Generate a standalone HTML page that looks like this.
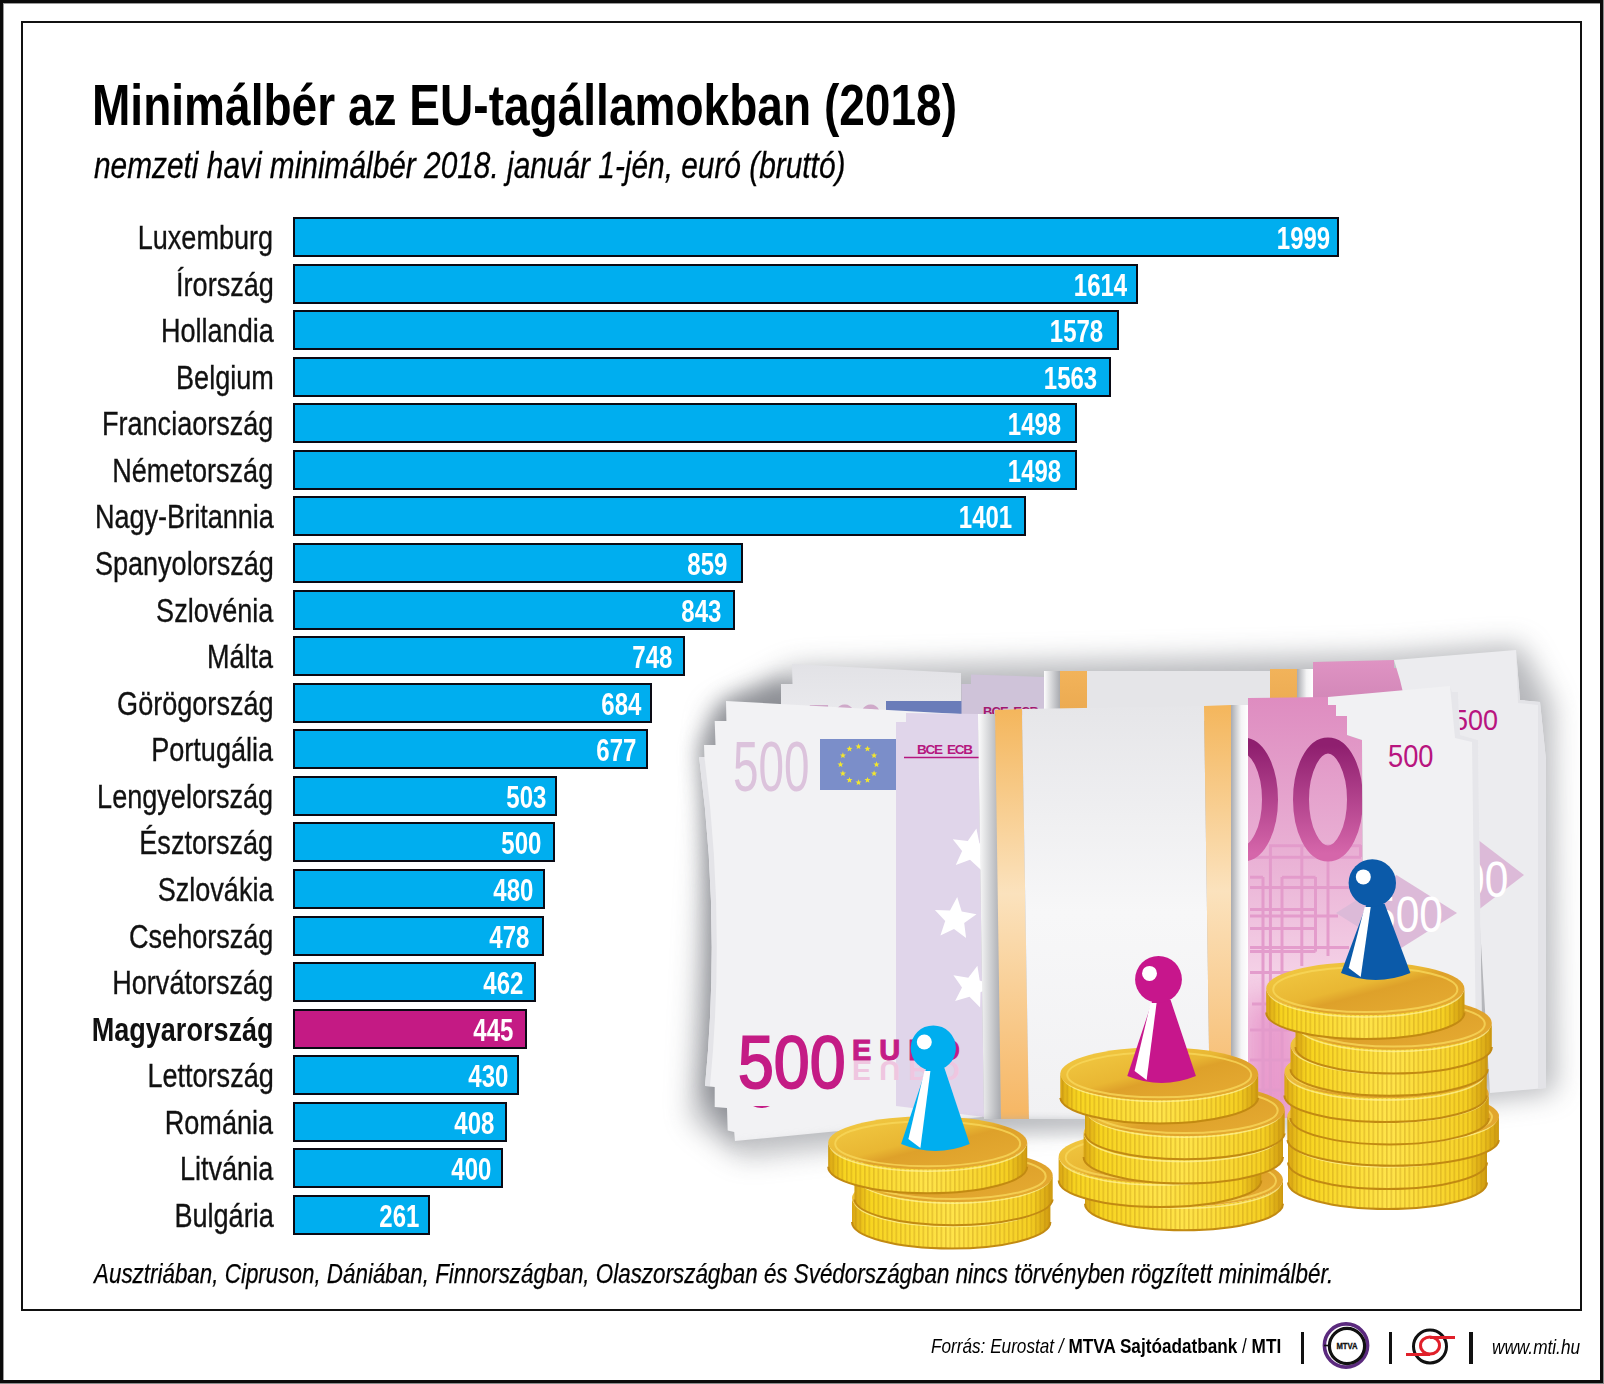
<!DOCTYPE html>
<html><head><meta charset="utf-8">
<style>
html,body{margin:0;padding:0;background:#fff;}
body{width:1604px;height:1384px;position:relative;overflow:hidden;font-family:"Liberation Sans",sans-serif;}
.outer{position:absolute;left:0;top:0;width:1597px;height:1377px;border:3px solid #0a0a0a;}
.edge{position:absolute;background:#8a8a8a;}
.inner{position:absolute;left:21px;top:21px;width:1557px;height:1286px;border:2px solid #111;}
.t{position:absolute;white-space:nowrap;line-height:1;}
.bar{position:absolute;left:293px;height:36px;border:2px solid #0a0a14;box-sizing:content-box;background:#00aeef;}
.bar.mag{background:#c41a84;}
.lab{position:absolute;right:1330.5px;white-space:nowrap;font-size:34px;line-height:40px;height:40px;color:#111;transform:scaleX(0.796);transform-origin:100% 0;}
.lab{-webkit-text-stroke:0.35px #111;}
.lab.b{font-weight:bold;-webkit-text-stroke:0;}
.val{position:absolute;white-space:nowrap;font-size:32px;font-weight:bold;color:#fff;line-height:40px;height:40px;margin-top:1px;transform:scaleX(0.75);transform-origin:100% 0;}
</style></head><body>
<div class="outer"></div>
<div class="edge" style="left:1603px;top:0;width:1px;height:1384px"></div>
<div class="edge" style="left:0;top:1383px;width:1604px;height:1px"></div>
<div class="inner"></div>
<div class="edge" style="left:3px;top:3px;width:1px;height:1377px;background:#9a9a9a"></div>
<div class="edge" style="left:3px;top:3px;width:1597px;height:1px;background:#9a9a9a"></div>
<div class="t" id="title" style="left:92px;top:76px;font-size:58px;font-weight:bold;transform:scaleX(0.794);transform-origin:0 0;">Minimálbér az EU-tagállamokban (2018)</div>
<div class="t" id="sub" style="left:93.5px;top:148px;font-size:36px;font-style:italic;-webkit-text-stroke:0.3px #000;transform:scaleX(0.829);transform-origin:0 0;">nemzeti havi minimálbér 2018. január 1-jén, euró (bruttó)</div>
<div class="bar" style="top:217.0px;width:1041.9px"></div>
<div class="lab" style="top:217.0px">Luxemburg</div>
<div class="val" style="top:217.0px;right:273.7px">1999</div>
<div class="bar" style="top:263.6px;width:840.6px"></div>
<div class="lab" style="top:263.6px">Írország</div>
<div class="val" style="top:263.6px;right:477.3px">1614</div>
<div class="bar" style="top:310.1px;width:821.8px"></div>
<div class="lab" style="top:310.1px">Hollandia</div>
<div class="val" style="top:310.1px;right:500.5px">1578</div>
<div class="bar" style="top:356.7px;width:814.0px"></div>
<div class="lab" style="top:356.7px">Belgium</div>
<div class="val" style="top:356.7px;right:507.2px">1563</div>
<div class="bar" style="top:403.3px;width:780.0px"></div>
<div class="lab" style="top:403.3px">Franciaország</div>
<div class="val" style="top:403.3px;right:542.4px">1498</div>
<div class="bar" style="top:449.9px;width:780.0px"></div>
<div class="lab" style="top:449.9px">Németország</div>
<div class="val" style="top:449.9px;right:542.4px">1498</div>
<div class="bar" style="top:496.4px;width:729.3px"></div>
<div class="lab" style="top:496.4px">Nagy-Britannia</div>
<div class="val" style="top:496.4px;right:591.6px">1401</div>
<div class="bar" style="top:543.0px;width:446.0px"></div>
<div class="lab" style="top:543.0px">Spanyolország</div>
<div class="val" style="top:543.0px;right:876.8px">859</div>
<div class="bar" style="top:589.6px;width:437.6px"></div>
<div class="lab" style="top:589.6px">Szlovénia</div>
<div class="val" style="top:589.6px;right:882.5px">843</div>
<div class="bar" style="top:636.1px;width:388.0px"></div>
<div class="lab" style="top:636.1px">Málta</div>
<div class="val" style="top:636.1px;right:932.1px">748</div>
<div class="bar" style="top:682.7px;width:354.5px"></div>
<div class="lab" style="top:682.7px">Görögország</div>
<div class="val" style="top:682.7px;right:963.0px">684</div>
<div class="bar" style="top:729.3px;width:350.9px"></div>
<div class="lab" style="top:729.3px">Portugália</div>
<div class="val" style="top:729.3px;right:967.8px">677</div>
<div class="bar" style="top:775.8px;width:259.9px"></div>
<div class="lab" style="top:775.8px">Lengyelország</div>
<div class="val" style="top:775.8px;right:1057.2px">503</div>
<div class="bar" style="top:822.4px;width:258.4px"></div>
<div class="lab" style="top:822.4px">Észtország</div>
<div class="val" style="top:822.4px;right:1063.0px">500</div>
<div class="bar" style="top:869.0px;width:247.9px"></div>
<div class="lab" style="top:869.0px">Szlovákia</div>
<div class="val" style="top:869.0px;right:1070.9px">480</div>
<div class="bar" style="top:915.5px;width:246.9px"></div>
<div class="lab" style="top:915.5px">Csehország</div>
<div class="val" style="top:915.5px;right:1074.7px">478</div>
<div class="bar" style="top:962.1px;width:238.5px"></div>
<div class="lab" style="top:962.1px">Horvátország</div>
<div class="val" style="top:962.1px;right:1081.0px">462</div>
<div class="bar mag" style="top:1008.7px;width:229.6px"></div>
<div class="lab b" style="top:1008.7px">Magyarország</div>
<div class="val" style="top:1008.7px;right:1090.7px">445</div>
<div class="bar" style="top:1055.3px;width:221.8px"></div>
<div class="lab" style="top:1055.3px">Lettország</div>
<div class="val" style="top:1055.3px;right:1095.9px">430</div>
<div class="bar" style="top:1101.8px;width:210.3px"></div>
<div class="lab" style="top:1101.8px">Románia</div>
<div class="val" style="top:1101.8px;right:1109.7px">408</div>
<div class="bar" style="top:1148.4px;width:206.1px"></div>
<div class="lab" style="top:1148.4px">Litvánia</div>
<div class="val" style="top:1148.4px;right:1112.7px">400</div>
<div class="bar" style="top:1195.0px;width:133.4px"></div>
<div class="lab" style="top:1195.0px">Bulgária</div>
<div class="val" style="top:1195.0px;right:1184.8px">261</div>
<div class="t" id="foot" style="left:94px;top:1260px;font-size:28px;font-style:italic;-webkit-text-stroke:0.25px #000;transform:scaleX(0.8);transform-origin:0 0;">Ausztriában, Cipruson, Dániában, Finnországban, Olaszországban és Svédországban nincs törvényben rögzített minimálbér.</div>
<div class="t" id="src" style="left:931px;top:1335px;font-size:21px;transform:scaleX(0.8176);transform-origin:0 0;"><i>Forrás: Eurostat / </i><b>MTVA Sajtóadatbank</b> / <b>MTI</b></div>
<div class="edge" style="left:1300.5px;top:1332px;width:3.5px;height:32px;background:#111"></div>
<div class="edge" style="left:1388.5px;top:1332px;width:3.5px;height:32px;background:#111"></div>
<div class="edge" style="left:1469px;top:1332px;width:3.5px;height:32px;background:#111"></div>
<svg style="position:absolute;left:1310px;top:1310px" width="80" height="74" viewBox="1310 1310 80 74">
<circle cx="1346" cy="1345.5" r="21.6" fill="none" stroke="#5b2a7e" stroke-width="3.6"/>
<circle cx="1347" cy="1346" r="17.6" fill="none" stroke="#111" stroke-width="3.2"/>
<line x1="1324" y1="1345.5" x2="1330" y2="1345.5" stroke="#111" stroke-width="1.6"/>
<text x="1347" y="1349.5" font-family="Liberation Sans" font-weight="bold" font-size="8.5" text-anchor="middle" fill="#111" stroke="#111" stroke-width="0.3" transform="translate(1347 0) scale(0.9 1) translate(-1347 0)">MTVA</text>
</svg>
<svg style="position:absolute;left:1400px;top:1310px" width="70" height="74" viewBox="1400 1310 70 74">
<circle cx="1430" cy="1346.5" r="16.5" fill="none" stroke="#111" stroke-width="3"/>
<ellipse cx="1430" cy="1345.5" rx="9.5" ry="8.5" fill="none" stroke="#e0202a" stroke-width="3"/>
<line x1="1430" y1="1337.5" x2="1455" y2="1337.5" stroke="#e0202a" stroke-width="3"/>
<line x1="1406" y1="1354.5" x2="1430" y2="1354.5" stroke="#e0202a" stroke-width="3"/>
</svg>
<div class="t" id="www" style="left:1492px;top:1336px;font-size:21px;font-style:italic;transform:scaleX(0.82);transform-origin:0 0;">www.mti.hu</div>
<svg style="position:absolute;left:0;top:0" width="1604" height="1384" viewBox="0 0 1604 1384">
<defs>
<filter id="bl14" x="-20%" y="-20%" width="140%" height="140%"><feGaussianBlur stdDeviation="14"/></filter>
<filter id="bl10" x="-50%" y="-20%" width="200%" height="140%"><feGaussianBlur stdDeviation="10"/></filter>
<filter id="bl6" x="-20%" y="-20%" width="140%" height="140%"><feGaussianBlur stdDeviation="6"/></filter>
<filter id="bl3" x="-20%" y="-20%" width="140%" height="140%"><feGaussianBlur stdDeviation="3"/></filter>
<linearGradient id="wrapL" x1="0" x2="1" y1="0" y2="0"><stop offset="0" stop-color="#fdfdfd"/><stop offset="1" stop-color="#a9abb0"/></linearGradient>
<linearGradient id="wrapR" x1="0" x2="1" y1="0" y2="0"><stop offset="0" stop-color="#a9abb0"/><stop offset="0.6" stop-color="#f4f4f5"/><stop offset="1" stop-color="#ffffff"/></linearGradient>
<linearGradient id="orange" x1="0" x2="0" y1="0" y2="1"><stop offset="0" stop-color="#f4b65c"/><stop offset="0.45" stop-color="#fbe2bd"/><stop offset="1" stop-color="#f6b663"/></linearGradient>
<linearGradient id="orangeB" x1="0" x2="0" y1="0" y2="1"><stop offset="0" stop-color="#f2b35a"/><stop offset="1" stop-color="#eaa84f"/></linearGradient>
<linearGradient id="wrapW" x1="0" x2="0" y1="0" y2="1"><stop offset="0" stop-color="#e6e6e9"/><stop offset="0.5" stop-color="#f7f7f8"/><stop offset="1" stop-color="#f1f1f3"/></linearGradient>
<linearGradient id="pink" x1="0" x2="0" y1="0" y2="1"><stop offset="0" stop-color="#de8cc0"/><stop offset="0.4" stop-color="#eab3d6"/><stop offset="0.65" stop-color="#f4d0e6"/><stop offset="1" stop-color="#eeb8da"/></linearGradient>
<linearGradient id="pinkB" x1="0" x2="0" y1="0" y2="1"><stop offset="0" stop-color="#df93c3"/><stop offset="1" stop-color="#c97fb0"/></linearGradient>
<linearGradient id="zero" x1="0" x2="0" y1="0" y2="1"><stop offset="0" stop-color="#8f1f6f"/><stop offset="1" stop-color="#d566aa"/></linearGradient>
<linearGradient id="note" x1="0" x2="0" y1="0" y2="1"><stop offset="0" stop-color="#e9e9ec"/><stop offset="0.15" stop-color="#f2f2f4"/><stop offset="1" stop-color="#f3f3f5"/></linearGradient>
<linearGradient id="noteB" x1="0" x2="0" y1="0" y2="1"><stop offset="0" stop-color="#e2e2e6"/><stop offset="1" stop-color="#ececef"/></linearGradient>
<linearGradient id="rim" x1="0" x2="1" y1="0" y2="0"><stop offset="0" stop-color="#d9a514"/><stop offset="0.08" stop-color="#f7d41f"/><stop offset="0.5" stop-color="#ffe44a"/><stop offset="0.9" stop-color="#f5cf22"/><stop offset="1" stop-color="#cf9a10"/></linearGradient>
<linearGradient id="face" x1="0" x2="1" y1="0" y2="1"><stop offset="0" stop-color="#f3cc45"/><stop offset="0.45" stop-color="#e9b733"/><stop offset="0.55" stop-color="#dea12a"/><stop offset="1" stop-color="#e7ad34"/></linearGradient>
<pattern id="ribs" width="4.5" height="40" patternUnits="userSpaceOnUse"><rect x="0" y="0" width="1.6" height="40" fill="#b98a10" opacity="0.35"/></pattern>
<linearGradient id="shB" x1="0" x2="0" y1="0" y2="1"><stop offset="0" stop-color="#9da0a6" stop-opacity="0.9"/><stop offset="1" stop-color="#ffffff" stop-opacity="0"/></linearGradient>
<clipPath id="pinkclip"><path d="M1248 698 L1328 697 L1328 705 L1336 705 L1336 716 L1347 716 L1347 735 L1362 740 L1364 1116 L1248 1119 Z"/></clipPath>
</defs>
<path d="M712 712 L795 668 L1380 655 L1520 645 L1552 705 L1555 1092 L1480 1100 L1000 1128 L742 1156 L692 1118 Z" fill="#6d7077" opacity="0.5" filter="url(#bl14)"/>
<path d="M698 745 L724 700 L782 680 L800 690 L740 1140 L704 1092 Q716 921 698 757 Z" fill="#6a6d74" opacity="0.55" filter="url(#bl10)"/>
<path d="M781 684 L792.5 684 L792 664 L961 673 L961 730 L781 730 Z" fill="url(#noteB)"/>
<rect x="886" y="701" width="77" height="30" fill="#6a7cb9"/>
<g transform="translate(806 748) scale(0.75 1)"><text x="0" y="0" font-family="Liberation Sans" font-size="62" fill="#cfa9c9">500</text></g>
<path d="M961.5 684 L971 684 L971 674.4 L1044 677 L1044 730 L961.5 730 Z" fill="#cfc3d9"/>
<text x="983" y="716" font-family="Liberation Sans" font-weight="bold" font-size="13" fill="#a3176f" textLength="56" lengthAdjust="spacing">BCE&#160;&#160;ECB</text>
<rect x="1044" y="671" width="16" height="50" fill="url(#wrapL)"/>
<rect x="1060" y="671" width="27" height="50" fill="url(#orangeB)"/>
<rect x="1087" y="671" width="183" height="50" fill="#e5e5e8"/>
<rect x="1270" y="669" width="27" height="52" fill="url(#orangeB)"/>
<rect x="1297" y="669" width="16" height="52" fill="url(#wrapR)"/>
<path d="M1313 662 L1394 660 L1394 668 L1400 668 L1400 680 L1412 680 L1412 730 L1313 730 Z" fill="url(#pinkB)"/>
<path d="M1394 660 L1516 650 L1520 700 L1540 702 L1546 760 L1546 1088 L1490 1093 L1470 760 L1412 730 L1400 680 Z" fill="#ececef"/>
<path d="M1516 650 L1520 700 L1540 702 L1546 760 L1546 1088 L1538 1089 L1538 705 L1518 703 Z" fill="#e3e3e7"/>
<g transform="translate(1453 730) scale(0.9 1)"><text x="0" y="0" font-family="Liberation Sans" font-size="30" fill="#b8157f">500</text></g>
<path d="M1473 836 L1524 875 L1473 914 L1440 875 Z" fill="#dcbad8"/>
<g transform="translate(1461 897) scale(0.85 1)"><text x="0" y="0" font-family="Liberation Sans" font-size="50" fill="#ffffff">00</text></g>
<path d="M726 701 L978 715 L982 1117 L735 1141 L734.2 1132 L727.7 1130.6 L727 1108 L714.7 1107 L714.7 1087 L705 1086 Q721 921 699 757 L704.4 757 L704 745 L715.5 745 L714.7 721 L726.4 721 Z" fill="#f2f2f4"/>
<path d="M699 757 L704.4 757 Q726 921 710 1086 L705 1086 Q721 921 699 757 Z" fill="#e4e4e8"/>
<g transform="translate(733 790.5) scale(0.655 1.0)"><text x="0" y="0" font-family="Liberation Sans" font-size="70" fill="#dcc3dc">500</text></g>
<rect x="820" y="739" width="77" height="51" fill="#7b8ec9"/>
<polygon points="876.5,761.3 877.3,763.4 879.5,763.5 877.8,764.9 878.4,767.1 876.5,765.9 874.6,767.1 875.2,764.9 873.5,763.5 875.7,763.4" fill="#f2e62e"/>
<polygon points="874.1,770.3 874.9,772.4 877.1,772.5 875.4,773.9 876.0,776.1 874.1,774.9 872.2,776.1 872.8,773.9 871.0,772.5 873.3,772.4" fill="#f2e62e"/>
<polygon points="867.5,776.9 868.3,779.0 870.5,779.1 868.8,780.5 869.4,782.7 867.5,781.5 865.6,782.7 866.2,780.5 864.5,779.1 866.7,779.0" fill="#f2e62e"/>
<polygon points="858.5,779.3 859.3,781.4 861.5,781.5 859.8,782.9 860.4,785.1 858.5,783.9 856.6,785.1 857.2,782.9 855.5,781.5 857.7,781.4" fill="#f2e62e"/>
<polygon points="849.5,776.9 850.3,779.0 852.5,779.1 850.8,780.5 851.4,782.7 849.5,781.5 847.6,782.7 848.2,780.5 846.5,779.1 848.7,779.0" fill="#f2e62e"/>
<polygon points="842.9,770.3 843.7,772.4 846.0,772.5 844.2,773.9 844.8,776.1 842.9,774.9 841.0,776.1 841.6,773.9 839.9,772.5 842.1,772.4" fill="#f2e62e"/>
<polygon points="840.5,761.3 841.3,763.4 843.5,763.5 841.8,764.9 842.4,767.1 840.5,765.9 838.6,767.1 839.2,764.9 837.5,763.5 839.7,763.4" fill="#f2e62e"/>
<polygon points="842.9,752.3 843.7,754.4 846.0,754.5 844.2,755.9 844.8,758.1 842.9,756.9 841.0,758.1 841.6,755.9 839.9,754.5 842.1,754.4" fill="#f2e62e"/>
<polygon points="849.5,745.7 850.3,747.8 852.5,747.9 850.8,749.3 851.4,751.5 849.5,750.3 847.6,751.5 848.2,749.3 846.5,747.9 848.7,747.8" fill="#f2e62e"/>
<polygon points="858.5,743.3 859.3,745.4 861.5,745.5 859.8,746.9 860.4,749.1 858.5,747.9 856.6,749.1 857.2,746.9 855.5,745.5 857.7,745.4" fill="#f2e62e"/>
<polygon points="867.5,745.7 868.3,747.8 870.5,747.9 868.8,749.3 869.4,751.5 867.5,750.3 865.6,751.5 866.2,749.3 864.5,747.9 866.7,747.8" fill="#f2e62e"/>
<polygon points="874.1,752.3 874.9,754.4 877.1,754.5 875.4,755.9 876.0,758.1 874.1,756.9 872.2,758.1 872.8,755.9 871.0,754.5 873.3,754.4" fill="#f2e62e"/>
<path d="M906 713 L978 714 L984 1117 L896 1106 L896 722 L906 722 Z" fill="#e0d5ea"/>
<polygon points="976.4,828.4 979.4,843.2 993.9,847.5 980.7,854.9 981.1,870.0 970.0,859.8 955.8,864.9 962.1,851.1 952.8,839.2 967.8,840.9" fill="#ffffff"/>
<polygon points="957.2,897.1 961.7,911.5 976.5,914.3 964.2,923.0 966.1,938.0 954.0,929.0 940.4,935.4 945.2,921.1 934.9,910.1 950.0,910.4" fill="#ffffff"/>
<polygon points="977.4,965.7 979.7,980.6 994.0,985.6 980.5,992.3 980.1,1007.4 969.5,996.7 955.1,1001.0 962.0,987.6 953.4,975.2 968.3,977.7" fill="#ffffff"/>
<text x="917" y="754" font-family="Liberation Sans" font-weight="bold" font-size="13.5" fill="#b5177f" textLength="56" lengthAdjust="spacing">BCE&#160;&#160;ECB</text>
<line x1="904" y1="757.5" x2="979" y2="757.5" stroke="#b5177f" stroke-width="1.3"/>
<g transform="translate(738 1088) scale(0.86 1)"><text x="0" y="0" font-family="Liberation Sans" font-size="75" fill="#c41c85" stroke="#c41c85" stroke-width="2">500</text></g>
<g transform="translate(852 1060) scale(1 1)"><text x="0" y="0" font-family="Liberation Sans" font-weight="bold" font-size="29" fill="#c41c85" stroke="#c41c85" stroke-width="1" letter-spacing="8">EURO</text></g>
<g transform="translate(852 1061) scale(1 -0.95)"><text x="0" y="0" font-family="Liberation Sans" font-weight="bold" font-size="29" fill="#efc6e0" letter-spacing="8">EURO</text></g>
<path d="M753 1106 Q761 1110 770 1106 Z" fill="#c41c85"/>
<path d="M978 714 L994 714 L995 710 L1001 1119 L984 1119 Z" fill="url(#wrapL)"/>
<path d="M995 710 L1022 709 L1029 1119 L1001 1119 Z" fill="url(#orange)"/>
<path d="M1022 709 L1204 706 L1210 1119 L1029 1119 Z" fill="url(#wrapW)"/>
<path d="M1204 706 L1231 705 L1235 1119 L1210 1119 Z" fill="url(#orange)"/>
<rect x="1231" y="705" width="17" height="414" fill="url(#wrapR)"/>
<path d="M1248 698 L1328 697 L1328 705 L1336 705 L1336 716 L1347 716 L1347 735 L1362 740 L1364 1116 L1248 1119 Z" fill="url(#pink)"/>
<g clip-path="url(#pinkclip)"><path d="M1248 1000 L1300 1000 L1300 1119 L1248 1119 Z" fill="#e27abd" opacity="0.55" filter="url(#bl14)"/><g stroke="#e39acb" stroke-width="3" opacity="0.95"><line x1="1269" y1="845.7" x2="1361" y2="845.7" /><line x1="1250" y1="857.2" x2="1361" y2="857.2" /><line x1="1250" y1="877.2" x2="1263" y2="877.2" /><line x1="1282" y1="877.2" x2="1315.5" y2="877.2" /><line x1="1250" y1="887.6" x2="1349" y2="887.6" /><line x1="1250" y1="909.6" x2="1315.5" y2="909.6" /><line x1="1250" y1="916" x2="1338" y2="916" /><line x1="1250" y1="928.5" x2="1315.5" y2="928.5" /><line x1="1250" y1="947.4" x2="1349" y2="947.4" /><line x1="1250" y1="951.6" x2="1315.5" y2="951.6" /><line x1="1250" y1="972.5" x2="1340" y2="972.5" /><line x1="1252" y1="1004" x2="1282" y2="1004" /><line x1="1250" y1="1030" x2="1300" y2="1030" /><line x1="1250" y1="1060" x2="1290" y2="1060" /><line x1="1258" y1="1090" x2="1300" y2="1090" /><line x1="1263" y1="877" x2="1263" y2="1115" /><line x1="1270.4" y1="845" x2="1270.4" y2="1115" /><line x1="1282" y1="877" x2="1282" y2="1100" /><line x1="1301.8" y1="845" x2="1301.8" y2="966" /><line x1="1315.5" y1="877" x2="1315.5" y2="951.6" /><line x1="1328" y1="857" x2="1328" y2="956" /><line x1="1360.5" y1="845" x2="1360.5" y2="857" /></g>
<ellipse cx="1243" cy="799.5" rx="27" ry="54" fill="none" stroke="url(#zero)" stroke-width="16"/>
<ellipse cx="1328" cy="799.5" rx="27" ry="54" fill="none" stroke="url(#zero)" stroke-width="16"/>
</g>
<path d="M1347 716 L1336 716 L1336 705 L1328 705 L1328 697 L1450 686 L1452 692 L1458 692 L1460 735 L1478 740 L1482 1045 L1364 1060 L1362 740 L1347 735 Z" fill="#f1f1f3"/>
<path d="M1450 686 L1452 692 L1458 692 L1460 735 L1478 740 L1482 1045 L1476 1045 L1472 742 L1455 738 Z" fill="#e6e6ea"/>
<g transform="translate(1388 767) scale(0.88 1)"><text x="0" y="0" font-family="Liberation Sans" font-size="31" fill="#b8157f">500</text></g>
<path d="M1396.5 875 L1457 913 L1396.5 951 L1336 913 Z" fill="#dcbad8"/>
<g transform="translate(1372 932) scale(0.85 1)"><text x="0" y="0" font-family="Liberation Sans" font-size="50" fill="#ffffff">500</text></g>
<path d="M1470 1040 Q1478 1050 1470 1062" fill="none" stroke="#b8157f" stroke-width="3"/>
<path d="M735 1141 L982 1118 L1248 1119 L1364 1116 L1364 1135 L982 1140 L735 1165 Z" fill="url(#shB)" opacity="0.55" filter="url(#bl3)"/>
<path d="M852.0 1198.1 A99.2 26.5 0 0 0 1050.4 1198.1 L1050.4 1222.1 A99.2 26.5 0 0 1 852.0 1222.1 Z" fill="url(#rim)"/><path d="M852.0 1198.1 A99.2 26.5 0 0 0 1050.4 1198.1 L1050.4 1222.1 A99.2 26.5 0 0 1 852.0 1222.1 Z" fill="url(#ribs)"/><path d="M852.0 1222.1 A99.2 26.5 0 0 0 1050.4 1222.1" fill="none" stroke="#c28a12" stroke-width="2"/><path d="M854.0 1200.1 A97.2 26.5 0 0 0 1048.4 1200.1" fill="none" stroke="#fff3a0" stroke-width="1.5" opacity="0.7"/><ellipse cx="951.2" cy="1198.1" rx="99.2" ry="26.5" fill="url(#face)"/><ellipse cx="951.2" cy="1199.1" rx="92.2" ry="22.5" fill="none" stroke="#f7d75a" stroke-width="2" opacity="0.8"/>
<path d="M854.4 1175.5 A99.2 26.5 0 0 0 1052.7 1175.5 L1052.7 1199.5 A99.2 26.5 0 0 1 854.4 1199.5 Z" fill="url(#rim)"/><path d="M854.4 1175.5 A99.2 26.5 0 0 0 1052.7 1175.5 L1052.7 1199.5 A99.2 26.5 0 0 1 854.4 1199.5 Z" fill="url(#ribs)"/><path d="M854.4 1199.5 A99.2 26.5 0 0 0 1052.7 1199.5" fill="none" stroke="#c28a12" stroke-width="2"/><path d="M856.4 1177.5 A97.2 26.5 0 0 0 1050.7 1177.5" fill="none" stroke="#fff3a0" stroke-width="1.5" opacity="0.7"/><ellipse cx="953.5" cy="1175.5" rx="99.2" ry="26.5" fill="url(#face)"/><ellipse cx="953.5" cy="1176.5" rx="92.2" ry="22.5" fill="none" stroke="#f7d75a" stroke-width="2" opacity="0.8"/>
<path d="M828.2 1142.7 A99.5 26.5 0 0 0 1027.2 1142.7 L1027.2 1166.7 A99.5 26.5 0 0 1 828.2 1166.7 Z" fill="url(#rim)"/><path d="M828.2 1142.7 A99.5 26.5 0 0 0 1027.2 1142.7 L1027.2 1166.7 A99.5 26.5 0 0 1 828.2 1166.7 Z" fill="url(#ribs)"/><path d="M828.2 1166.7 A99.5 26.5 0 0 0 1027.2 1166.7" fill="none" stroke="#c28a12" stroke-width="2"/><path d="M830.2 1144.7 A97.5 26.5 0 0 0 1025.2 1144.7" fill="none" stroke="#fff3a0" stroke-width="1.5" opacity="0.7"/><ellipse cx="927.7" cy="1142.7" rx="99.5" ry="26.5" fill="url(#face)"/><ellipse cx="927.7" cy="1143.7" rx="92.5" ry="22.5" fill="none" stroke="#f7d75a" stroke-width="2" opacity="0.8"/>
<path d="M926.4 1068.0 L901.1 1144.0 Q935.4 1158.0 969.7 1144.0 L944.4 1068.0 Z" fill="#00aeef"/><circle cx="933.3" cy="1048.0" r="22.6" fill="#00aeef"/><circle cx="924.3" cy="1042.0" r="7.5" fill="#ffffff"/><path d="M924.4 1071.0 L930.4 1071.0 L920.4 1148.0 L908.4 1139.0 Z" fill="#ffffff"/>
<path d="M1085.0 1179.8 A99.0 26.5 0 0 0 1283.0 1179.8 L1283.0 1203.8 A99.0 26.5 0 0 1 1085.0 1203.8 Z" fill="url(#rim)"/><path d="M1085.0 1179.8 A99.0 26.5 0 0 0 1283.0 1179.8 L1283.0 1203.8 A99.0 26.5 0 0 1 1085.0 1203.8 Z" fill="url(#ribs)"/><path d="M1085.0 1203.8 A99.0 26.5 0 0 0 1283.0 1203.8" fill="none" stroke="#c28a12" stroke-width="2"/><path d="M1087.0 1181.8 A97.0 26.5 0 0 0 1281.0 1181.8" fill="none" stroke="#fff3a0" stroke-width="1.5" opacity="0.7"/><ellipse cx="1184.0" cy="1179.8" rx="99.0" ry="26.5" fill="url(#face)"/><ellipse cx="1184.0" cy="1180.8" rx="92.0" ry="22.5" fill="none" stroke="#f7d75a" stroke-width="2" opacity="0.8"/>
<path d="M1058.7 1156.5 A101.3 26.5 0 0 0 1261.3 1156.5 L1261.3 1180.5 A101.3 26.5 0 0 1 1058.7 1180.5 Z" fill="url(#rim)"/><path d="M1058.7 1156.5 A101.3 26.5 0 0 0 1261.3 1156.5 L1261.3 1180.5 A101.3 26.5 0 0 1 1058.7 1180.5 Z" fill="url(#ribs)"/><path d="M1058.7 1180.5 A101.3 26.5 0 0 0 1261.3 1180.5" fill="none" stroke="#c28a12" stroke-width="2"/><path d="M1060.7 1158.5 A99.3 26.5 0 0 0 1259.3 1158.5" fill="none" stroke="#fff3a0" stroke-width="1.5" opacity="0.7"/><ellipse cx="1160.0" cy="1156.5" rx="101.3" ry="26.5" fill="url(#face)"/><ellipse cx="1160.0" cy="1157.5" rx="94.3" ry="22.5" fill="none" stroke="#f7d75a" stroke-width="2" opacity="0.8"/>
<path d="M1083.6 1133.0 A99.7 26.5 0 0 0 1283.0 1133.0 L1283.0 1157.0 A99.7 26.5 0 0 1 1083.6 1157.0 Z" fill="url(#rim)"/><path d="M1083.6 1133.0 A99.7 26.5 0 0 0 1283.0 1133.0 L1283.0 1157.0 A99.7 26.5 0 0 1 1083.6 1157.0 Z" fill="url(#ribs)"/><path d="M1083.6 1157.0 A99.7 26.5 0 0 0 1283.0 1157.0" fill="none" stroke="#c28a12" stroke-width="2"/><path d="M1085.6 1135.0 A97.7 26.5 0 0 0 1281.0 1135.0" fill="none" stroke="#fff3a0" stroke-width="1.5" opacity="0.7"/><ellipse cx="1183.3" cy="1133.0" rx="99.7" ry="26.5" fill="url(#face)"/><ellipse cx="1183.3" cy="1134.0" rx="92.7" ry="22.5" fill="none" stroke="#f7d75a" stroke-width="2" opacity="0.8"/>
<path d="M1085.0 1109.5 A99.9 26.5 0 0 0 1284.7 1109.5 L1284.7 1133.5 A99.9 26.5 0 0 1 1085.0 1133.5 Z" fill="url(#rim)"/><path d="M1085.0 1109.5 A99.9 26.5 0 0 0 1284.7 1109.5 L1284.7 1133.5 A99.9 26.5 0 0 1 1085.0 1133.5 Z" fill="url(#ribs)"/><path d="M1085.0 1133.5 A99.9 26.5 0 0 0 1284.7 1133.5" fill="none" stroke="#c28a12" stroke-width="2"/><path d="M1087.0 1111.5 A97.9 26.5 0 0 0 1282.7 1111.5" fill="none" stroke="#fff3a0" stroke-width="1.5" opacity="0.7"/><ellipse cx="1184.8" cy="1109.5" rx="99.9" ry="26.5" fill="url(#face)"/><ellipse cx="1184.8" cy="1110.5" rx="92.9" ry="22.5" fill="none" stroke="#f7d75a" stroke-width="2" opacity="0.8"/>
<path d="M1060.3 1073.8 A99.0 26.5 0 0 0 1258.2 1073.8 L1258.2 1097.8 A99.0 26.5 0 0 1 1060.3 1097.8 Z" fill="url(#rim)"/><path d="M1060.3 1073.8 A99.0 26.5 0 0 0 1258.2 1073.8 L1258.2 1097.8 A99.0 26.5 0 0 1 1060.3 1097.8 Z" fill="url(#ribs)"/><path d="M1060.3 1097.8 A99.0 26.5 0 0 0 1258.2 1097.8" fill="none" stroke="#c28a12" stroke-width="2"/><path d="M1062.3 1075.8 A97.0 26.5 0 0 0 1256.2 1075.8" fill="none" stroke="#fff3a0" stroke-width="1.5" opacity="0.7"/><ellipse cx="1159.2" cy="1073.8" rx="99.0" ry="26.5" fill="url(#face)"/><ellipse cx="1159.2" cy="1074.8" rx="92.0" ry="22.5" fill="none" stroke="#f7d75a" stroke-width="2" opacity="0.8"/>
<path d="M1152.6 1000.0 L1127.3 1076.0 Q1161.6 1090.0 1195.9 1076.0 L1170.6 1000.0 Z" fill="#c7168c"/><circle cx="1158.5" cy="979.4" r="23.4" fill="#c7168c"/><circle cx="1149.5" cy="973.4" r="7.5" fill="#ffffff"/><path d="M1150.6 1003.0 L1156.6 1003.0 L1146.6 1080.0 L1134.6 1071.0 Z" fill="#ffffff"/>
<path d="M1288.0 1158.5 A99.5 26.5 0 0 0 1487.0 1158.5 L1487.0 1182.5 A99.5 26.5 0 0 1 1288.0 1182.5 Z" fill="url(#rim)"/><path d="M1288.0 1158.5 A99.5 26.5 0 0 0 1487.0 1158.5 L1487.0 1182.5 A99.5 26.5 0 0 1 1288.0 1182.5 Z" fill="url(#ribs)"/><path d="M1288.0 1182.5 A99.5 26.5 0 0 0 1487.0 1182.5" fill="none" stroke="#c28a12" stroke-width="2"/><path d="M1290.0 1160.5 A97.5 26.5 0 0 0 1485.0 1160.5" fill="none" stroke="#fff3a0" stroke-width="1.5" opacity="0.7"/><ellipse cx="1387.5" cy="1158.5" rx="99.5" ry="26.5" fill="url(#face)"/><ellipse cx="1387.5" cy="1159.5" rx="92.5" ry="22.5" fill="none" stroke="#f7d75a" stroke-width="2" opacity="0.8"/>
<path d="M1288.0 1138.5 A99.5 26.5 0 0 0 1487.0 1138.5 L1487.0 1162.5 A99.5 26.5 0 0 1 1288.0 1162.5 Z" fill="url(#rim)"/><path d="M1288.0 1138.5 A99.5 26.5 0 0 0 1487.0 1138.5 L1487.0 1162.5 A99.5 26.5 0 0 1 1288.0 1162.5 Z" fill="url(#ribs)"/><path d="M1288.0 1162.5 A99.5 26.5 0 0 0 1487.0 1162.5" fill="none" stroke="#c28a12" stroke-width="2"/><path d="M1290.0 1140.5 A97.5 26.5 0 0 0 1485.0 1140.5" fill="none" stroke="#fff3a0" stroke-width="1.5" opacity="0.7"/><ellipse cx="1387.5" cy="1138.5" rx="99.5" ry="26.5" fill="url(#face)"/><ellipse cx="1387.5" cy="1139.5" rx="92.5" ry="22.5" fill="none" stroke="#f7d75a" stroke-width="2" opacity="0.8"/>
<path d="M1287.4 1116.1 A105.8 26.5 0 0 0 1498.9 1116.1 L1498.9 1140.1 A105.8 26.5 0 0 1 1287.4 1140.1 Z" fill="url(#rim)"/><path d="M1287.4 1116.1 A105.8 26.5 0 0 0 1498.9 1116.1 L1498.9 1140.1 A105.8 26.5 0 0 1 1287.4 1140.1 Z" fill="url(#ribs)"/><path d="M1287.4 1140.1 A105.8 26.5 0 0 0 1498.9 1140.1" fill="none" stroke="#c28a12" stroke-width="2"/><path d="M1289.4 1118.1 A103.8 26.5 0 0 0 1496.9 1118.1" fill="none" stroke="#fff3a0" stroke-width="1.5" opacity="0.7"/><ellipse cx="1393.2" cy="1116.1" rx="105.8" ry="26.5" fill="url(#face)"/><ellipse cx="1393.2" cy="1117.1" rx="98.8" ry="22.5" fill="none" stroke="#f7d75a" stroke-width="2" opacity="0.8"/>
<path d="M1290.5 1093.9 A99.1 26.5 0 0 0 1488.8 1093.9 L1488.8 1117.9 A99.1 26.5 0 0 1 1290.5 1117.9 Z" fill="url(#rim)"/><path d="M1290.5 1093.9 A99.1 26.5 0 0 0 1488.8 1093.9 L1488.8 1117.9 A99.1 26.5 0 0 1 1290.5 1117.9 Z" fill="url(#ribs)"/><path d="M1290.5 1117.9 A99.1 26.5 0 0 0 1488.8 1117.9" fill="none" stroke="#c28a12" stroke-width="2"/><path d="M1292.5 1095.9 A97.1 26.5 0 0 0 1486.8 1095.9" fill="none" stroke="#fff3a0" stroke-width="1.5" opacity="0.7"/><ellipse cx="1389.7" cy="1093.9" rx="99.1" ry="26.5" fill="url(#face)"/><ellipse cx="1389.7" cy="1094.9" rx="92.1" ry="22.5" fill="none" stroke="#f7d75a" stroke-width="2" opacity="0.8"/>
<path d="M1284.4 1071.5 A101.1 26.5 0 0 0 1486.7 1071.5 L1486.7 1095.5 A101.1 26.5 0 0 1 1284.4 1095.5 Z" fill="url(#rim)"/><path d="M1284.4 1071.5 A101.1 26.5 0 0 0 1486.7 1071.5 L1486.7 1095.5 A101.1 26.5 0 0 1 1284.4 1095.5 Z" fill="url(#ribs)"/><path d="M1284.4 1095.5 A101.1 26.5 0 0 0 1486.7 1095.5" fill="none" stroke="#c28a12" stroke-width="2"/><path d="M1286.4 1073.5 A99.1 26.5 0 0 0 1484.7 1073.5" fill="none" stroke="#fff3a0" stroke-width="1.5" opacity="0.7"/><ellipse cx="1385.6" cy="1071.5" rx="101.1" ry="26.5" fill="url(#face)"/><ellipse cx="1385.6" cy="1072.5" rx="94.1" ry="22.5" fill="none" stroke="#f7d75a" stroke-width="2" opacity="0.8"/>
<path d="M1290.5 1045.3 A98.6 26.5 0 0 0 1487.7 1045.3 L1487.7 1069.3 A98.6 26.5 0 0 1 1290.5 1069.3 Z" fill="url(#rim)"/><path d="M1290.5 1045.3 A98.6 26.5 0 0 0 1487.7 1045.3 L1487.7 1069.3 A98.6 26.5 0 0 1 1290.5 1069.3 Z" fill="url(#ribs)"/><path d="M1290.5 1069.3 A98.6 26.5 0 0 0 1487.7 1069.3" fill="none" stroke="#c28a12" stroke-width="2"/><path d="M1292.5 1047.3 A96.6 26.5 0 0 0 1485.7 1047.3" fill="none" stroke="#fff3a0" stroke-width="1.5" opacity="0.7"/><ellipse cx="1389.1" cy="1045.3" rx="98.6" ry="26.5" fill="url(#face)"/><ellipse cx="1389.1" cy="1046.3" rx="91.6" ry="22.5" fill="none" stroke="#f7d75a" stroke-width="2" opacity="0.8"/>
<path d="M1295.5 1023.0 A98.1 26.5 0 0 0 1491.8 1023.0 L1491.8 1047.0 A98.1 26.5 0 0 1 1295.5 1047.0 Z" fill="url(#rim)"/><path d="M1295.5 1023.0 A98.1 26.5 0 0 0 1491.8 1023.0 L1491.8 1047.0 A98.1 26.5 0 0 1 1295.5 1047.0 Z" fill="url(#ribs)"/><path d="M1295.5 1047.0 A98.1 26.5 0 0 0 1491.8 1047.0" fill="none" stroke="#c28a12" stroke-width="2"/><path d="M1297.5 1025.0 A96.1 26.5 0 0 0 1489.8 1025.0" fill="none" stroke="#fff3a0" stroke-width="1.5" opacity="0.7"/><ellipse cx="1393.7" cy="1023.0" rx="98.1" ry="26.5" fill="url(#face)"/><ellipse cx="1393.7" cy="1024.0" rx="91.1" ry="22.5" fill="none" stroke="#f7d75a" stroke-width="2" opacity="0.8"/>
<path d="M1266.2 988.5 A99.1 26.5 0 0 0 1464.5 988.5 L1464.5 1012.5 A99.1 26.5 0 0 1 1266.2 1012.5 Z" fill="url(#rim)"/><path d="M1266.2 988.5 A99.1 26.5 0 0 0 1464.5 988.5 L1464.5 1012.5 A99.1 26.5 0 0 1 1266.2 1012.5 Z" fill="url(#ribs)"/><path d="M1266.2 1012.5 A99.1 26.5 0 0 0 1464.5 1012.5" fill="none" stroke="#c28a12" stroke-width="2"/><path d="M1268.2 990.5 A97.1 26.5 0 0 0 1462.5 990.5" fill="none" stroke="#fff3a0" stroke-width="1.5" opacity="0.7"/><ellipse cx="1365.3" cy="988.5" rx="99.1" ry="26.5" fill="url(#face)"/><ellipse cx="1365.3" cy="989.5" rx="92.1" ry="22.5" fill="none" stroke="#f7d75a" stroke-width="2" opacity="0.8"/>
<path d="M1366.7 904.0 L1341.0 973.0 Q1375.7 987.0 1410.4 973.0 L1384.7 904.0 Z" fill="#0b5aa9"/><circle cx="1372.3" cy="882.9" r="23.7" fill="#0b5aa9"/><circle cx="1363.3" cy="876.9" r="7.5" fill="#ffffff"/><path d="M1364.7 907.0 L1370.7 907.0 L1360.7 977.0 L1348.7 968.0 Z" fill="#ffffff"/>
</svg>
</body></html>
